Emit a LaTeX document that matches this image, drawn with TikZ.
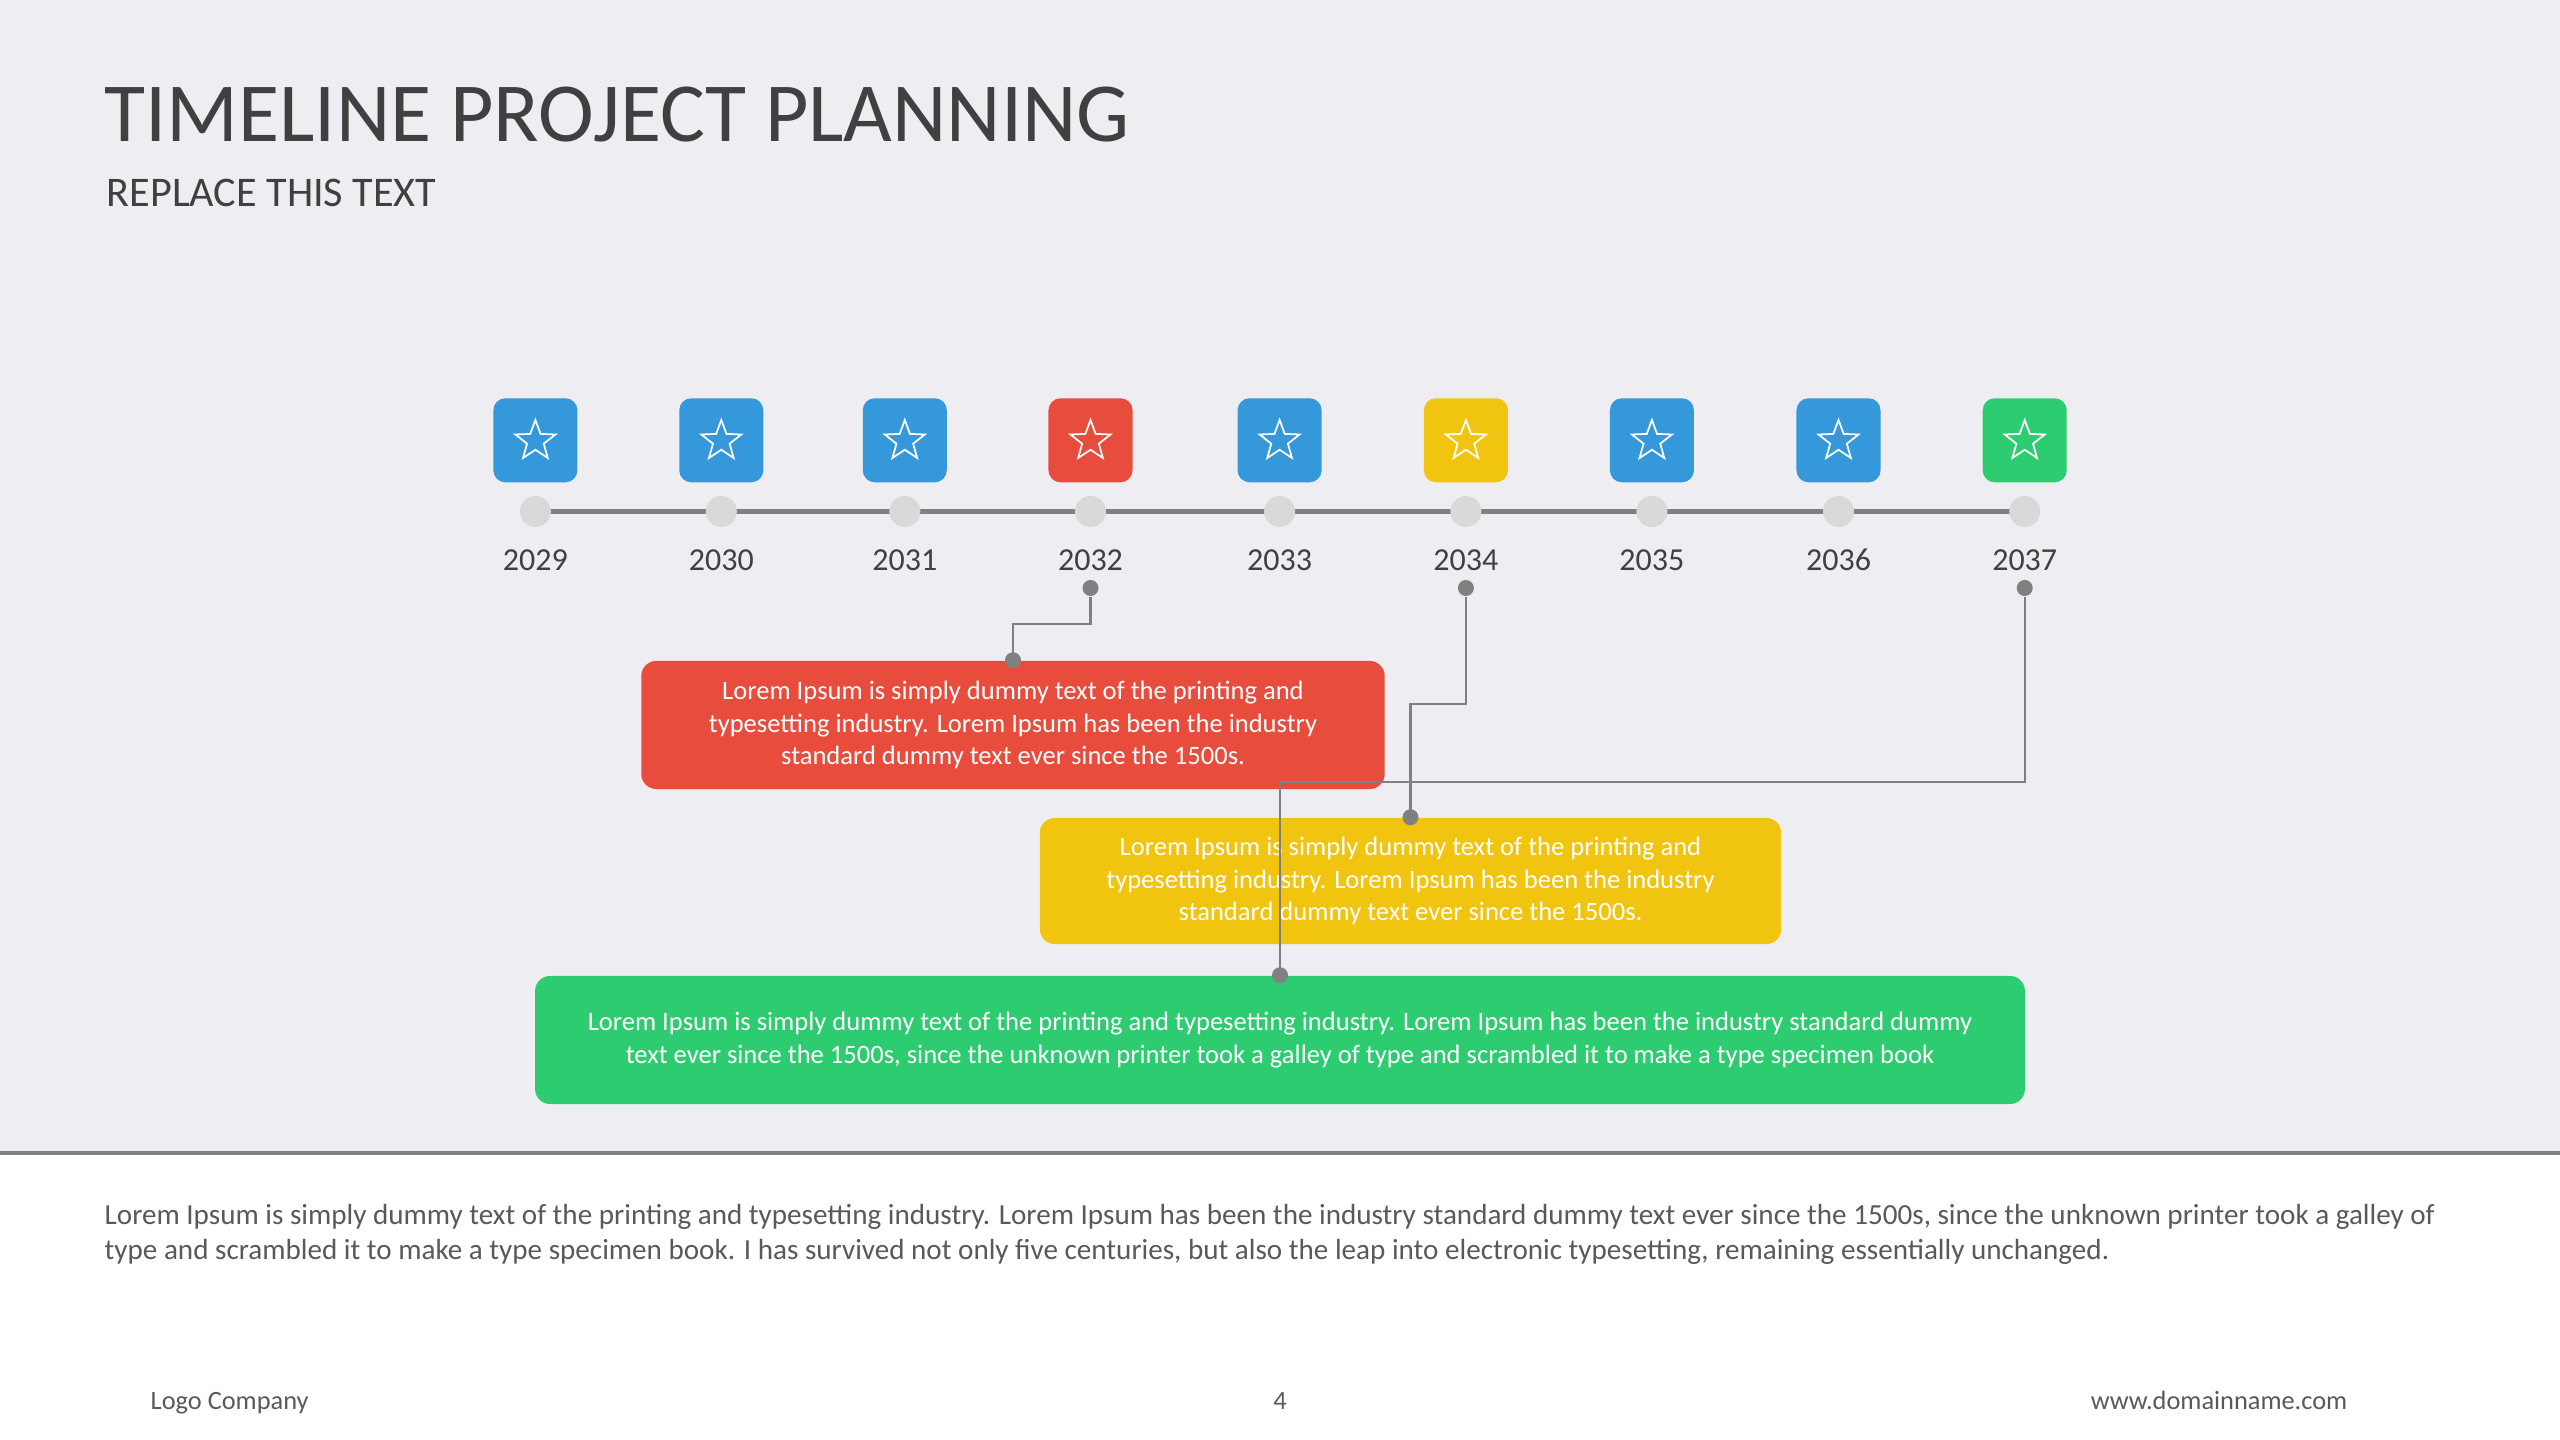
\documentclass[tikz,border=0pt]{standalone}
\usepackage{fontspec}
\setmainfont{Carlito}
\usepackage{xcolor}
\usetikzlibrary{shapes.geometric, positioning}

\definecolor{pagebg}{HTML}{EEEEF2}
\definecolor{tlblue}{HTML}{3498DB}
\definecolor{tlred}{HTML}{E74C3C}
\definecolor{tlyellow}{HTML}{F1C40F}
\definecolor{tlgreen}{HTML}{2ECC71}
\definecolor{inkgray}{HTML}{404040}
\definecolor{bodygray}{HTML}{595959}
\definecolor{linegray}{HTML}{808080}
\definecolor{dotgray}{HTML}{D9D9D9}

\begin{document}
\begin{tikzpicture}[x=0.01cm, y=-0.01cm,
    icon/.style={rounded corners=0.12cm, minimum width=0.84cm, minimum height=0.84cm, inner sep=0pt},
    starico/.style={star, star points=5, star point ratio=2.4, minimum size=0.42cm, inner sep=0pt, draw=white, line width=0.5pt},
    tdot/.style={circle, fill=dotgray, minimum size=0.31cm, inner sep=0pt},
    jdot/.style={circle, fill=linegray, minimum size=0.16cm, inner sep=0pt},
    conn/.style={draw=linegray, line width=0.6pt},
    note/.style={rounded corners=0.15cm, text=white, align=center, inner sep=0pt,
        font=\fontsize{7.55}{9.2}\selectfont},
    foot/.style={text=bodygray, inner sep=0pt, font=\fontsize{7.5}{9}\selectfont}]

    % Page background
    \useasboundingbox (0,0) rectangle (2560,1440);
    \fill[pagebg] (0,0) rectangle (2560,1153);
    \fill[white] (0,1153) rectangle (2560,1440);
    \draw[linegray, line width=0.9pt] (0,1153) -- (2560,1153);

    % Heading
    \node[anchor=base west, inner sep=0pt, text=inkgray, font=\fontsize{23.9}{28}\selectfont] (title) at (104,142) {TIMELINE PROJECT PLANNING};
    \node[anchor=base west, inner sep=0pt, text=inkgray, font=\fontsize{12}{14}\selectfont] (subtitle) at (106,207) {REPLACE THIS TEXT};

    % Timeline bar
    \coordinate (tlstart) at (535.4,511.5);
    \coordinate (tlend) at (2024.7,511.5);
    \draw[linegray, line width=1.42pt] (tlstart) -- (tlend);

    % Years with icons
    \foreach \i/\x/\yr/\col in {0/535.4/2029/tlblue, 1/721.3/2030/tlblue, 2/904.8/2031/tlblue,
                                3/1090.5/2032/tlred, 4/1279.6/2033/tlblue, 5/1465.9/2034/tlyellow,
                                6/1651.9/2035/tlblue, 7/1838.5/2036/tlblue, 8/2024.7/2037/tlgreen} {
        \node[icon, fill=\col] (ic\i) at (\x,440.3) {};
        \node[starico] (st\i) at (\x,441) {};
        \node[tdot] (dt\i) at (\x,511.5) {};
        \node[text=inkgray, font=\fontsize{9.1}{11}\selectfont] (yr\i) at (\x,560) {\yr};
    }

    % Text boxes
    \node[note, fill=tlred, minimum width=7.43cm, minimum height=1.28cm] (rbox) at (1013,725)
        {Lorem Ipsum is simply dummy text of the printing and\\typesetting industry. Lorem Ipsum has been the industry\\standard dummy text ever since the 1500s.};
    \node[note, fill=tlyellow, minimum width=7.41cm, minimum height=1.26cm] (ybox) at (1410.5,881)
        {Lorem Ipsum is simply dummy text of the printing and\\typesetting industry. Lorem Ipsum has been the industry\\standard dummy text ever since the 1500s.};
    \node[note, fill=tlgreen, minimum width=14.89cm, minimum height=1.28cm] (gbox) at (1280,1040)
        {Lorem Ipsum is simply dummy text of the printing and typesetting industry. Lorem Ipsum has been the industry standard dummy\\text ever since the 1500s, since the unknown printer took a galley of type and scrambled it to make a type specimen book};

    % Connectors
    \node[jdot] (ja) at (ic3 |- 0,588) {};
    \node[jdot] (jb) at (ic5 |- 0,588) {};
    \node[jdot] (jc) at (ic8 |- 0,588) {};
    \draw[conn] (ja) -- ++(0,36) -| (rbox.north);
    \draw[conn] (jb) -- ++(0,116) -| (ybox.north);
    \draw[conn] (jc) -- ++(0,194) -| (gbox.north);
    \node[jdot] (ra) at (rbox.north) {};
    \node[jdot] (ya) at (ybox.north) {};
    \node[jdot] (ga) at (gbox.north) {};

    % Body text
    \node[anchor=north west, align=left, inner sep=0pt, text=bodygray, font=\fontsize{8.28}{9.76}\selectfont] (body) at (104,1204)
        {Lorem Ipsum is simply dummy text of the printing and typesetting industry. Lorem Ipsum has been the industry standard dummy text ever since the 1500s, since the unknown printer took a galley of\\type and scrambled it to make a type specimen book. I has survived not only five centuries, but also the leap into electronic typesetting, remaining essentially unchanged.};

    % Footer
    \node[foot, anchor=base west] (logo) at (150,1409) {Logo Company};
    \node[foot, anchor=base] (pageno) at (1280,1409) {4};
    \node[foot, anchor=base east] (web) at (2348,1409) {www.domainname.com};
\end{tikzpicture}
\end{document}
